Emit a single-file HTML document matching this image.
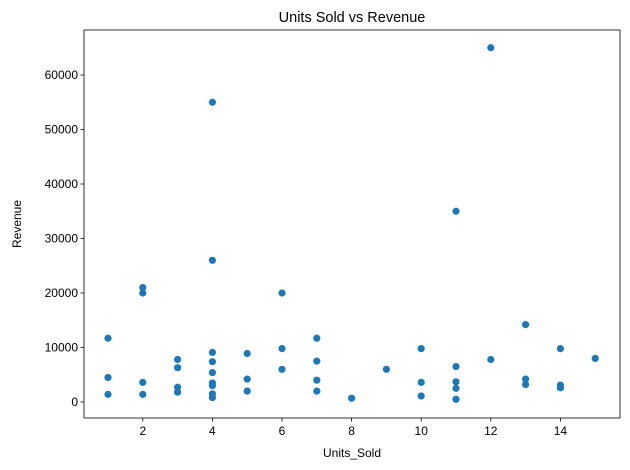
<!DOCTYPE html>
<html><head><meta charset="utf-8">
<style>body{margin:0;background:#fff}svg{display:block;font-family:"Liberation Sans","DejaVu Sans",sans-serif}</style>
</head><body>
<svg id="chart" width="630" height="470"></svg>
<script>
const unitsSold = [1,1,1, 2,2,2,2, 3,3,3,3, 4,4,4,4,4,4,4,4,4, 5,5,5, 6,6,6, 7,7,7,7, 8, 9, 10,10,10, 11,11,11,11,11, 12,12, 13,13,13, 14,14,14, 15];
const revenue = [11700,4500,1400, 21000,20000,3600,1400, 7800,6300,2700,1800, 55000,26000,9100,7400,5400,3500,3000,1500,800, 8900,4200,2000, 20000,9800,6000, 11700,7500,4000,2000, 700, 6000, 9800,3600,1100, 35000,6500,3700,2500,500, 65000,7800, 14200,4200,3200, 9800,3100,2600, 8000];
const xTicks = [2,4,6,8,10,12,14];
const yTicks = [0,10000,20000,30000,40000,50000,60000];

const NS="http://www.w3.org/2000/svg";
const svg=document.getElementById('chart');
const L=84,R=620,T=30,B=418;
const xs=v=>108+(v-1)*(491-143)/10;
const ys=v=>402-v*(402-75)/60000;
function mk(tag,attrs,parent){const e=document.createElementNS(NS,tag);for(const k in attrs)e.setAttribute(k,attrs[k]);(parent||svg).appendChild(e);return e;}

const frame=mk('rect',{x:L,y:T,width:R-L,height:B-T,fill:'none',stroke:'#000','stroke-width':0.8});



xTicks.forEach(t=>{
  const g=mk('g',{});
  
  
  mk('line',{x1:xs(t),x2:xs(t),y1:B,y2:B+3.5,stroke:'#000','stroke-width':0.8},g);
  const tx=mk('text',{x:xs(t),y:B+17,'text-anchor':'middle','font-size':12},g);tx.textContent=t;
});
yTicks.forEach(t=>{
  const g=mk('g',{});
  
  
  mk('line',{x1:L-3.5,x2:L,y1:ys(t),y2:ys(t),stroke:'#000','stroke-width':0.8},g);
  const tx=mk('text',{x:L-6,y:ys(t)+4,'text-anchor':'end','font-size':12},g);tx.textContent=t;
});
unitsSold.forEach((u,i)=>{
  const c=mk('circle',{cx:xs(u),cy:ys(revenue[i]),r:3.6,fill:'#1f77b4'});
  
  
});
const title=mk('text',{x:(L+R)/2,y:22,'text-anchor':'middle','font-size':14.5});
title.textContent='Units Sold vs Revenue';


const xl=mk('text',{x:(L+R)/2,y:457,'text-anchor':'middle','font-size':12});
xl.textContent='Units_Sold';


const yl=mk('text',{x:0,y:0,'text-anchor':'middle','font-size':12,transform:`translate(21,${(T+B)/2}) rotate(-90)`});
yl.textContent='Revenue';


</script>
</body></html>
